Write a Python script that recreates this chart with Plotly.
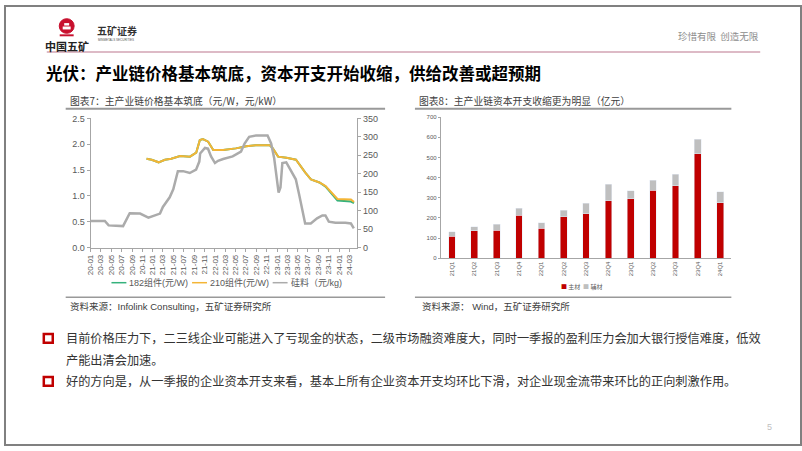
import plotly.graph_objects as go

W, H = 802, 451

# ---------------- Data: chart 7 (prices) ----------------
si_dates = ["2020-01-01", "2020-03-25", "2020-04-16", "2020-07-10", "2020-08-18", "2020-10-18",
            "2020-12-06", "2021-02-12", "2021-03-01", "2021-04-10", "2021-05-01", "2021-05-28",
            "2021-06-28", "2021-08-06", "2021-09-12", "2021-10-01", "2021-10-06", "2021-11-03",
            "2021-11-21", "2021-12-09", "2022-01-01", "2022-01-19", "2022-02-18", "2022-04-15",
            "2022-06-03", "2022-06-24", "2022-07-21", "2022-09-01", "2022-11-06", "2022-11-27",
            "2022-12-15", "2023-01-01", "2023-01-10", "2023-01-21", "2023-02-01", "2023-02-24",
            "2023-03-21", "2023-04-21", "2023-05-10", "2023-06-01", "2023-06-15", "2023-07-18",
            "2023-08-24", "2023-09-24", "2023-10-12", "2023-11-01", "2023-12-10", "2024-02-06",
            "2024-03-10", "2024-03-27"]
si_price = [72, 72, 60, 58, 93, 92,
            81, 92, 110, 136, 158, 207,
            207, 202, 211, 233, 255, 270,
            268, 247, 229, 235, 240, 247,
            260, 282, 300, 304, 304, 282,
            242, 180, 149, 163, 229, 231,
            211, 185, 145, 92, 65, 65,
            79, 87, 87, 70, 67, 67,
            65, 52]

mod_dates = ["2020-11-25", "2020-12-25", "2021-02-04", "2021-03-13", "2021-04-19", "2021-06-10",
             "2021-08-07", "2021-09-13", "2021-10-04", "2021-10-22", "2021-11-22", "2021-12-22",
             "2022-02-18", "2022-05-04", "2022-07-04", "2022-08-28", "2022-11-19", "2022-12-07",
             "2023-01-07", "2023-02-25", "2023-04-22", "2023-05-13", "2023-06-16", "2023-07-19",
             "2023-09-07", "2023-10-13", "2023-11-22", "2023-12-22", "2024-03-10", "2024-03-28"]
mod210 = [1.72, 1.70, 1.65, 1.70, 1.72, 1.77,
          1.76, 1.84, 2.08, 2.10, 2.05, 1.89,
          1.89, 1.92, 1.96, 1.98, 1.98, 1.92,
          1.76, 1.74, 1.70, 1.60, 1.45, 1.32,
          1.26, 1.19, 1.04, 0.94, 0.93, 0.88]
mod182 = [1.72, 1.70, 1.65, 1.70, 1.72, 1.77,
          1.76, 1.84, 2.08, 2.10, 2.05, 1.89,
          1.89, 1.92, 1.96, 1.98, 1.98, 1.92,
          1.76, 1.74, 1.70, 1.60, 1.45, 1.32,
          1.26, 1.18, 1.02, 0.91, 0.89, 0.86]
line_names = ["182组件(元/W)", "210组件(元/W)", "硅料（元/kg)"]
line_colors = ["#35B27C", "#F4B536", "#ABABAB"]

# ---------------- Data: chart 8 (capex) ----------------
quarters = ["21Q1", "21Q2", "21Q3", "21Q4", "22Q1", "22Q2", "22Q3", "22Q4",
            "23Q1", "23Q2", "23Q3", "23Q4", "24Q1"]
main_mat = [110, 137, 139, 213, 148, 205, 221, 286, 294, 336, 359, 518, 276]
aux_mat = [21, 19, 29, 34, 28, 32, 51, 80, 40, 50, 57, 72, 54]
bar_names = ["主材", "辅材"]
bar_colors = ["#C00000", "#BFBFBF"]

CJK = "Noto Sans CJK SC, Liberation Sans, sans-serif"
NUM = "Liberation Sans, Noto Sans CJK SC, sans-serif"


def px(x):
    return x / W


def py(y):
    return 1 - y / H


fig = go.Figure()

# Left chart traces
fig.add_trace(go.Scatter(x=mod_dates, y=mod182, mode="lines", name=line_names[0],
                         line=dict(color=line_colors[0], width=2), xaxis="x", yaxis="y"))
fig.add_trace(go.Scatter(x=mod_dates, y=mod210, mode="lines", name=line_names[1],
                         line=dict(color=line_colors[1], width=2), xaxis="x", yaxis="y"))
fig.add_trace(go.Scatter(x=si_dates, y=si_price, mode="lines", name=line_names[2],
                         line=dict(color=line_colors[2], width=2.5), xaxis="x", yaxis="y2"))

# Right chart traces
fig.add_trace(go.Bar(x=quarters, y=main_mat, name=bar_names[0], marker=dict(color=bar_colors[0]),
                     xaxis="x3", yaxis="y3", width=0.3))
fig.add_trace(go.Bar(x=quarters, y=aux_mat, name=bar_names[1], marker=dict(color=bar_colors[1]),
                     xaxis="x3", yaxis="y3", width=0.3))

axis_col = "#A6A6A6"
tick_font = dict(family=NUM, size=9, color="#595959")

fig.update_layout(
    width=W, height=H,
    margin=dict(l=0, r=0, t=0, b=0),
    paper_bgcolor="white", plot_bgcolor="white",
    barmode="stack",
    showlegend=False,
    xaxis=dict(domain=[px(87), px(355)], type="date",
               range=["2020-01-01", "2024-04-16"],
               tick0="2020-01-01", dtick="M2", tickformat="%y-%m",
               tickangle=-90, tickfont=dict(family=NUM, size=8, color="#595959"),
               showgrid=False, showline=True, linecolor=axis_col, linewidth=1,
               ticks="outside", ticklen=3, tickcolor=axis_col, anchor="y",
               zeroline=False),
    yaxis=dict(domain=[py(248), py(116)], range=[0, 2.5], dtick=0.5, tickformat=".1f",
               tickfont=tick_font, showgrid=False, showline=True, linecolor=axis_col,
               ticks="outside", ticklen=3, tickcolor=axis_col, zeroline=False, anchor="x"),
    yaxis2=dict(domain=[py(248), py(116)], range=[0, 350], dtick=50, overlaying="y",
                side="right", anchor="x", tickfont=tick_font, showgrid=False,
                showline=True, linecolor=axis_col, ticks="outside", ticklen=3,
                tickcolor=axis_col, zeroline=False),
    xaxis3=dict(domain=[px(439), px(731)], type="category", anchor="y3",
                categoryorder="array", categoryarray=quarters,
                tickangle=-90, tickfont=dict(family=NUM, size=6, color="#595959"),
                showgrid=False, showline=True, linecolor=axis_col,
                ticks="", zeroline=False),
    yaxis3=dict(domain=[py(258.9), py(114.7)], range=[0, 700], dtick=100, anchor="x3",
                tickfont=dict(family=NUM, size=6, color="#595959"), showgrid=False,
                showline=True, linecolor=axis_col, ticks="outside", ticklen=2,
                tickcolor=axis_col, zeroline=False),
)

shapes = []
ann = []


def text(x, y, s, size, color="#333333", bold=False, xanchor="left", family=CJK):
    if bold:
        s = "<b>" + s + "</b>"
    ann.append(dict(xref="paper", yref="paper", x=px(x), y=py(y), text=s, showarrow=False,
                    xanchor=xanchor, yanchor="middle", borderpad=0,
                    font=dict(family=family, size=size, color=color)))


def hline(x0, x1, y, color, width):
    shapes.append(dict(type="line", xref="paper", yref="paper", x0=px(x0), x1=px(x1),
                       y0=py(y), y1=py(y), line=dict(color=color, width=width)))


# page border
shapes.append(dict(type="rect", xref="paper", yref="paper", x0=px(1), x1=px(801), y0=py(450),
                   y1=py(1), line=dict(color="#808080", width=2), fillcolor="rgba(0,0,0,0)"))
# header pink line
hline(43, 760, 48, "#DDBAC6", 2)
# chart title underlines and source lines
for (x0, x1) in [(62, 383), (413, 731)]:
    hline(x0, x1, 106, "#999999", 2)
    hline(x0, x1, 299, "#999999", 1.5)
# bullet squares
for yb in [341, 385]:
    shapes.append(dict(type="rect", xref="paper", yref="paper", x0=px(40), x1=px(49),
                       y0=py(yb + 4.5), y1=py(yb - 4.5), line=dict(color="#C00000", width=2.5),
                       fillcolor="white"))
# logo emblem
shapes.append(dict(type="circle", xref="paper", yref="paper", x0=px(55.5), x1=px(70.5),
                   y0=py(29), y1=py(14), line=dict(color="#C8102E", width=1),
                   fillcolor="#C8102E"))
shapes.append(dict(type="rect", xref="paper", yref="paper", x0=px(59), x1=px(67),
                   y0=py(25), y1=py(22), line=dict(width=0), fillcolor="white"))
shapes.append(dict(type="rect", xref="paper", yref="paper", x0=px(60.5), x1=px(65.5),
                   y0=py(21), y1=py(18.5), line=dict(width=0), fillcolor="white"))
shapes.append(dict(type="rect", xref="paper", yref="paper", x0=px(56), x1=px(70),
                   y0=py(32), y1=py(30), line=dict(width=0), fillcolor="#C8102E"))

# legend of left chart (compact, like the original)
leg_x = [108, 189, 270]
for lx, nm, col in zip(leg_x, line_names, line_colors):
    hline(lx, lx + 15, 284, col, 1.5)
    text(lx + 17, 284, nm, 9, "#595959", False, "left", NUM)

# legend of right chart
leg_txt = "  ".join("<span style='color:%s'>■</span> %s" % (c, n)
                    for c, n in zip(bar_colors, bar_names))
text(580, 288, leg_txt, 6, "#595959", False, "center", CJK)

text(63, 42, "中国五矿", 11, "#222222", True, "center")
text(92, 26, "五矿证券", 10, "#333333", True)
text(93, 36, "MINMETALS SECURITIES", 3, "#555555", False, "left", NUM)
text(760, 32, "珍惜有限  创造无限", 9.5, "#8C8C8C", False, "right")
text(41, 70, "光伏：产业链价格基本筑底，资本开支开始收缩，供给改善或超预期", 16.5, "#000000", True)
text(65, 98, "图表7：主产业链价格基本筑底（元/W，元/kW）", 9.8, "#404040")
text(416, 98, "图表8：主产业链资本开支收缩更为明显（亿元）", 9.8, "#404040")
text(65, 308, "资料来源：Infolink Consulting，五矿证券研究所", 9.5, "#404040", False, "left", NUM)
text(419, 308, "资料来源： Wind，五矿证券研究所", 9.5, "#404040", False, "left", NUM)
text(61, 341, "目前价格压力下，二三线企业可能进入了亏现金的状态，二级市场融资难度大，同时一季报的盈利压力会加大银行授信难度，低效",
     12.2, "#333333")
text(61, 363, "产能出清会加速。", 12.2, "#333333")
text(61, 385, "好的方向是，从一季报的企业资本开支来看，基本上所有企业资本开支均环比下滑，对企业现金流带来环比的正向刺激作用。",
     12.2, "#333333")
text(769, 432, "5", 9, "#BFBFBF", False, "center", NUM)

fig.update_layout(shapes=shapes, annotations=ann)

fig.write_html("out.html")
